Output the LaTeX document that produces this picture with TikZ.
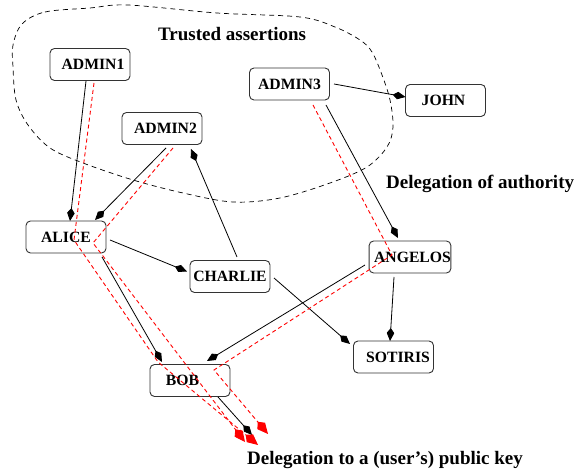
\documentclass[tikz,border=0pt]{standalone}
\usepackage{fontspec}
\setmainfont{Liberation Serif}
\usetikzlibrary{arrows.meta,calc}
\begin{document}
\begin{tikzpicture}[x=1pt,y=1pt,
  box/.style={draw=black!80, line width=0.9pt, rounded corners=4.5pt, minimum width=80pt, minimum height=32pt, inner sep=0pt, font=\fontsize{15.7}{18}\selectfont\bfseries},
  lab/.style={font=\fontsize{19}{22}\selectfont\bfseries, inner sep=0pt, anchor=base west},
  conn/.style={line width=0.8pt, -{Kite[length=13pt,width=7.5pt,inset=5pt]}},
  chain/.style={red, line width=0.9pt, dash pattern=on 4pt off 3pt, -{Kite[length=16pt,width=10pt,inset=5.5pt]}},
  blob/.style={line width=0.7pt, dash pattern=on 5pt off 4pt}
  ]
\useasboundingbox (0,0) rectangle (580,470);

% trusted region
\draw[blob] plot[smooth cycle, tension=0.55] coordinates {
  (22,446) (45,458) (90,462) (128,465) (217,457) (300,453) (335,443) (360,430) (372,418)
  (382,395) (390,370) (393,343) (387,323) (367,303) (330,287) (280,272) (233,268)
  (183,277) (133,290) (83,307) (50,322) (28,345) (16,370) (13,403) (13,425)};

% nodes
\node[box] (admin1) at (90,405.5) {\hspace*{6pt}ADMIN1};
\node[box] (admin2) at (162,341.5) {\hspace*{7pt}ADMIN2};
\node[box] (admin3) at (289.5,386) {ADMIN3};
\node[box] (john) at (445.5,369.5) {JOHN\hspace*{4pt}};
\node[box] (alice) at (66,233) {ALICE};
\node[box] (charlie) at (230,193.5) {CHARLIE};
\node[box] (bob) at (190,89.5) {BOB\hspace*{15pt}};
\node[box] (angelos) at (410,213) {\hspace*{5pt}ANGELOS};
\node[box] (sotiris) at (393.5,113) {\hspace*{9pt}SOTIRIS};

% labels
\node[lab] (trusted) at (158,429) {Trusted assertions};
\node[lab] (doa) at (386,281) {Delegation of authority};
\node[lab] (dpk) at (247,5) {Delegation to a (user’s) public key};

% key end points
\coordinate (ka) at (245,28);
\coordinate (kb) at (252,35);
\coordinate (kc) at (258,25);
\coordinate (kd) at (268,36);

% delegation arrows
\draw[conn] ($(admin1)+(-4,-16.5)$) -- ($(alice)+(4,16)$);
\draw[conn] ($(admin2)+(4,-19.5)$) -- ($(alice)+(29,17)$);
\draw[conn] ($(charlie)+(7,19.5)$) -- ($(admin2)+(29,-20.5)$);
\draw[conn] ($(admin3)+(44.5,0)$) -- ($(john)+(-40,3.5)$);
\draw[conn] ($(admin3)+(36.5,-21)$) -- ($(angelos)+(-12,19)$);
\draw[conn] ($(alice)+(44,-3)$) -- ($(charlie)+(-43,5)$);
\draw[conn] ($(alice)+(36,-20)$) -- ($(bob)+(-28,18.5)$);
\draw[conn] ($(angelos)+(-45,-8)$) -- ($(bob)+(17,19.5)$);
\draw[conn] ($(angelos)+(-16,-20)$) -- ($(sotiris)+(-3.5,16)$);
\draw[conn] ($(charlie)+(44,-1.5)$) -- ($(sotiris)+(-43.5,13)$);
\draw[conn] ($(bob)+(28,-16.5)$) -- (kb);

% trust chains
\draw[chain] ($(admin1)+(4,-18.5)$) -- ($(alice)+(8,-3)$) -- ($(bob)+(-32,18.5)$) -- (kc);
\draw[chain] ($(admin2)+(11,-19.5)$) -- ($(alice)+(27,-6)$) -- (ka);
\draw[chain] ($(admin3)+(23.5,-21)$) -- ($(angelos)+(-18,2)$) -- ($(bob)+(24,10.5)$) -- (kd);
\end{tikzpicture}
\end{document}
